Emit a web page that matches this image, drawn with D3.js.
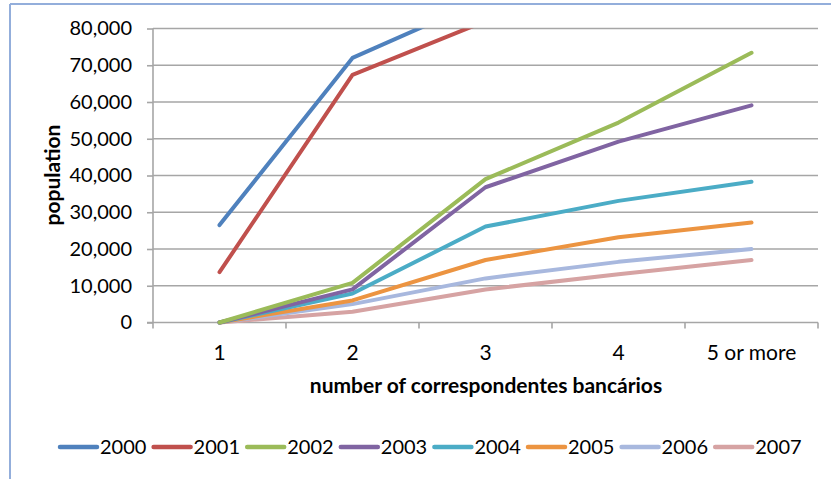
<!DOCTYPE html>
<html>
<head>
<meta charset="utf-8">
<script src="https://cdn.jsdelivr.net/npm/d3@7"></script>
<style>
  html, body { margin: 0; padding: 0; background: #fff; }
  svg { display: block; font-family: Lato, "Open Sans", sans-serif; }
</style>
</head>
<body>
<svg id="chart" width="831" height="479"></svg>
<script>
// Categories on the x axis
const categories = ["1", "2", "3", "4", "5 or more"];

// Population per year, one value per category
const years = ["2000", "2001", "2002", "2003", "2004", "2005", "2006", "2007"];
const s2000 = [26500, 72000, 88000, 97000, 105000];
const s2001 = [13700, 67400, 82000, 91000, 99000];
const s2002 = [0, 10800, 39000, 54400, 73400];
const s2003 = [0, 9000, 36800, 49200, 59100];
const s2004 = [0, 7900, 26100, 33100, 38300];
const s2005 = [0, 6000, 17000, 23200, 27200];
const s2006 = [0, 5000, 12000, 16500, 20000];
const s2007 = [0, 2900, 9000, 13100, 17000];
const seriesValues = [s2000, s2001, s2002, s2003, s2004, s2005, s2006, s2007];
const colors = ["#4F81BD", "#C0504D", "#9BBB59", "#8064A2", "#4BACC6", "#EC9441", "#A8B8DE", "#D6A3A3"];

// Y axis ticks
const yTicks = [0, 10000, 20000, 30000, 40000, 50000, 60000, 70000, 80000];

const svg = d3.select("#chart");

const plot = { left: 153, right: 818, top: 28.5, bottom: 322.5 };

const x = d3.scaleBand().domain(categories).range([plot.left, plot.right]).paddingInner(0).paddingOuter(0);
const xc = d => x(d) + x.bandwidth() / 2;
const y = d3.scaleLinear().domain([0, 80000]).range([plot.bottom, plot.top]);

// Outer frame (top and left edges)
svg.append("line").attr("x1", 10).attr("x2", 831).attr("y1", 4).attr("y2", 4)
  .attr("stroke", "#93aedb").attr("stroke-width", 2);
svg.append("line").attr("x1", 10).attr("x2", 10).attr("y1", 4).attr("y2", 479)
  .attr("stroke", "#93aedb").attr("stroke-width", 2);

// Panel label partly above the frame
svg.append("text").attr("x", 264).attr("y", -4).attr("text-anchor", "middle")
  .attr("font-size", 16).attr("fill", "#333").text("(a)");

// Horizontal gridlines
svg.append("g").selectAll("line").data(yTicks.filter(d => d > 0)).join("line")
  .attr("x1", plot.left).attr("x2", plot.right)
  .attr("y1", d => y(d)).attr("y2", d => y(d))
  .attr("stroke", "#a6a6a6").attr("stroke-width", 1.6);

// Y axis
const yAxis = svg.append("g").attr("transform", `translate(${plot.left},0)`)
  .call(d3.axisLeft(y).tickValues(yTicks).tickFormat(d3.format(",")).tickSize(6).tickPadding(15));
yAxis.select(".domain").attr("stroke", "#a6a6a6").attr("stroke-width", 1.6).attr("d", `M0,${plot.top}V${plot.bottom}`);
yAxis.selectAll(".tick line").attr("stroke", "#a6a6a6").attr("stroke-width", 1.6);
yAxis.selectAll(".tick text").attr("font-size", 20).attr("fill", "#000").attr("font-family", "Lato");

// X axis: boundary ticks between categories, labels centred in each band
const xAxis = svg.append("g").attr("transform", `translate(0,${plot.bottom})`);
xAxis.append("line").attr("x1", plot.left - 6).attr("x2", plot.right).attr("y1", 0).attr("y2", 0)
  .attr("stroke", "#a6a6a6").attr("stroke-width", 1.6);
const edges = categories.map(c => x(c)).concat([x(categories[categories.length - 1]) + x.bandwidth()]);
xAxis.selectAll("line.edge").data(edges).join("line").attr("class", "edge")
  .attr("x1", d => d).attr("x2", d => d).attr("y1", 0).attr("y2", 6)
  .attr("stroke", "#a6a6a6").attr("stroke-width", 1.6);
xAxis.selectAll("text").data(categories).join("text")
  .attr("x", d => xc(d)).attr("y", 37).attr("text-anchor", "middle")
  .attr("font-size", 21).attr("fill", "#000").text(d => d);

// Axis titles
svg.append("text").attr("x", 486).attr("y", 393).attr("text-anchor", "middle")
  .attr("font-size", 21).attr("font-weight", "bold").attr("fill", "#000")
  .text("number of correspondentes bancários");
svg.append("text").attr("transform", "translate(60,175) rotate(-90)").attr("text-anchor", "middle")
  .attr("font-size", 21).attr("font-weight", "bold").attr("fill", "#000")
  .text("population");

// Lines, clipped to the plot area
svg.append("clipPath").attr("id", "plotclip").append("rect")
  .attr("x", plot.left).attr("y", plot.top).attr("width", plot.right - plot.left).attr("height", plot.bottom - plot.top + 4);

const line = d3.line().x((d, i) => xc(categories[i])).y(d => y(d));

const data = years.map((yr, i) => ({ year: yr, values: seriesValues[i], color: colors[i] }));
svg.append("g").attr("clip-path", "url(#plotclip)").selectAll("path").data(data.slice().reverse()).join("path")
  .attr("d", d => line(d.values))
  .attr("fill", "none").attr("stroke", d => d.color).attr("stroke-width", 4)
  .attr("stroke-linejoin", "round").attr("stroke-linecap", "round");

// Legend
const legend = svg.append("g");
const item = legend.selectAll("g").data(data).join("g")
  .attr("transform", (d, i) => `translate(${60 + i * 93.6},447)`);
item.append("line").attr("x1", 0).attr("x2", 37).attr("y1", 0).attr("y2", 0)
  .attr("stroke", d => d.color).attr("stroke-width", 4.5).attr("stroke-linecap", "round");
item.append("text").attr("x", 40).attr("y", 7).attr("font-size", 20).attr("fill", "#000")
  .text(d => d.year);
</script>
</body>
</html>
